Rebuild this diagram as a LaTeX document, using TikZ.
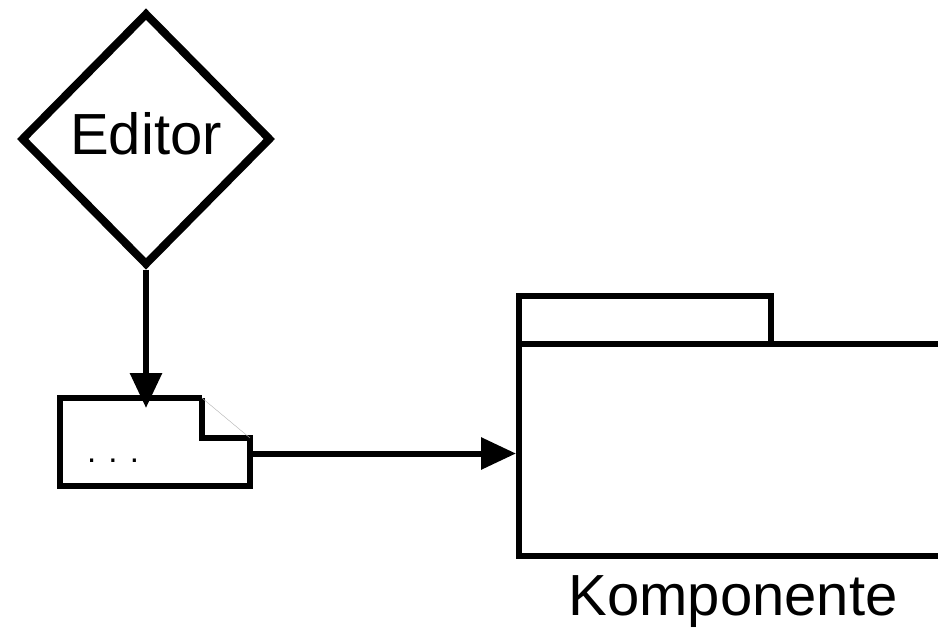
\documentclass[tikz,border=0pt]{standalone}
\usepackage{fontspec}
\setmainfont{Liberation Sans}
\usetikzlibrary{calc, shapes.geometric, positioning, arrows.meta}
\newcommand{\bigtxt}{\fontsize{58}{70}\selectfont}

\begin{document}
\begin{tikzpicture}[x=1pt,y=-1pt,
  decision/.style={diamond,draw,line width=8pt,inner sep=0pt,minimum width=250pt,minimum height=253pt,font=\bigtxt},
  notebox/.style={rectangle,inner sep=0pt,outer sep=0pt,minimum width=190pt,minimum height=88pt},
  pkgbox/.style={rectangle,draw,line width=6.5pt,outer sep=0pt,minimum width=428pt,minimum height=212pt},
  noteline/.style={line width=6.5pt,line join=miter},
  arr/.style={line width=6pt,-{Triangle[length=35pt,width=31pt]}}]
\clip (0,0) rectangle (938,630);
\node[decision] (editor) at (146,139) {\raisebox{-15pt}[0pt][0pt]{Editor}};
\node[notebox] (note) at (155,442) {};
\node[anchor=base,font=\fontsize{33}{33}\selectfont] (dots) at (113,462) {. . .};
\draw[noteline] ($(note.north east)+(-48,0)$) -- (note.north west) -- (note.south west)
  -- (note.south east) -- ($(note.north east)+(0,40)$) -- ++(-48,0) -- ++(0,-40);
\draw[gray!60,thin] ($(note.north east)+(-48,0)$) -- ($(note.north east)+(0,40)$);
\node[pkgbox] (body) at (733,450) {};
\draw[line width=6.5pt] (body.north west) -- ++(0,-48) -- ++(252,0) -- ++(0,48);
\node[below=19pt of body,inner sep=0pt,font=\bigtxt] (name) {Komponente};
\draw[arr,shorten >=-10pt] (editor.south) -- (editor.south |- note.north);
\draw[arr,shorten >=3pt] ($(body.west -| note.east)+(0,3.5)$) -- ($(body.west)+(0,3.5)$);
\end{tikzpicture}
\end{document}
